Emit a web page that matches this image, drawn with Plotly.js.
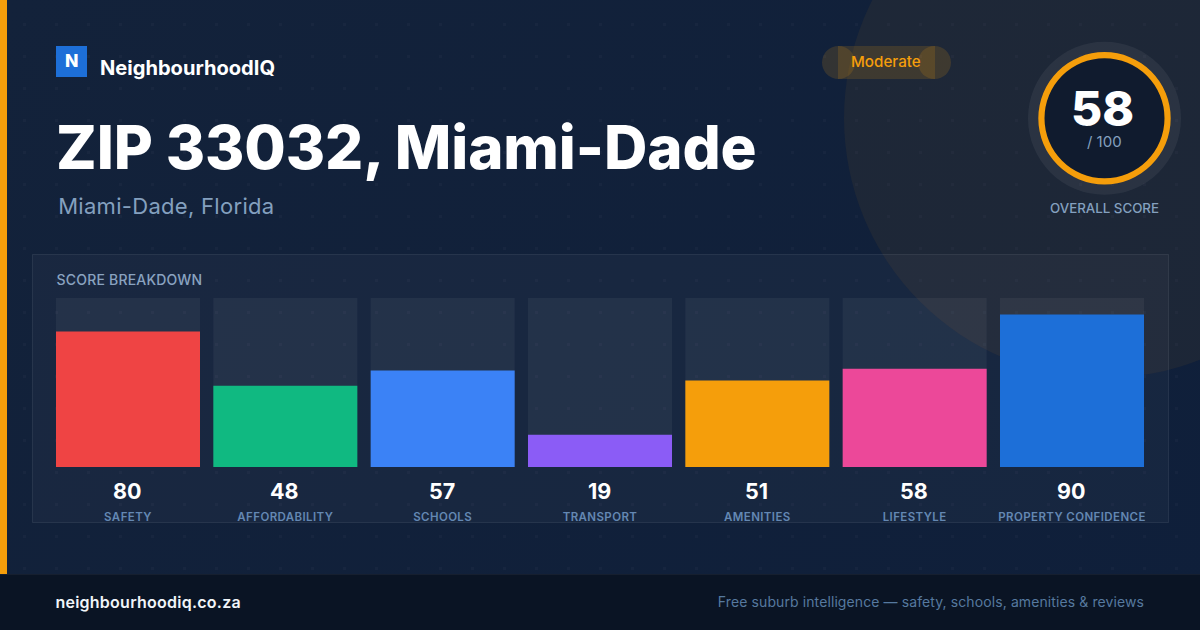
<!DOCTYPE html>
<html>
<head>
<meta charset="utf-8">
<script src="https://cdn.plot.ly/plotly-3.0.1.min.js"></script>
<style>
html,body{margin:0;padding:0;width:1200px;height:630px;overflow:hidden}
body{background-color:#12213b;
background-image:radial-gradient(circle at 16.5px 16.5px,rgba(255,255,255,.022) 1.5px,transparent 1.6px),linear-gradient(135deg,#13223a,#0f1f3a);
background-size:32px 32px,100% 100%;background-position:8px 8px,0 0;}
#chart{width:1200px;height:630px}
.xtick text{letter-spacing:.4px}
.annotation[data-index="1"] text{letter-spacing:-.1px}
.annotation[data-index="2"] text{letter-spacing:.3px}
.annotation[data-index="8"] text{letter-spacing:.2px}
.annotation[data-index="9"] text{letter-spacing:.25px}
.annotation[data-index="10"] text{letter-spacing:.1px}
</style>
</head>
<body>
<div id="chart"></div>
<script>
const categories = ["SAFETY","AFFORDABILITY","SCHOOLS","TRANSPORT","AMENITIES","LIFESTYLE","PROPERTY CONFIDENCE"];
const scores = [80,48,57,19,51,58,90];
const trackMax = [100,100,100,100,100,100,100];
const barColors = ["#ef4444","#10b981","#3b82f6","#8b5cf6","#f59e0b","#ec4899","#1d6fd8"];
const overallScore = 58;

const W = 1200, H = 630, FONT = "Inter, sans-serif";
const px = x => x / W, py = y => 1 - y / H;

function rect(x0,y0,x1,y1,fill,line){
  return {type:"rect",xref:"paper",yref:"paper",layer:"below",x0:px(x0),x1:px(x1),y0:py(y0),y1:py(y1),
    fillcolor:fill,line:line||{width:0}};
}
function circle(cx,cy,r,fill){
  return {type:"circle",xref:"paper",yref:"paper",layer:"below",x0:px(cx-r),x1:px(cx+r),y0:py(cy-r),y1:py(cy+r),
    fillcolor:fill,line:{width:0}};
}
function label(text,x,y,size,color,weight,anchor){
  return {text:text,xref:"paper",yref:"paper",x:px(x),y:py(y),xanchor:anchor||"left",yanchor:"middle",
    showarrow:false,borderpad:0,borderwidth:0,font:{family:FONT,size:size,color:color,weight:weight||400}};
}

const shapes = [
  circle(1104,118,260,"rgba(245,158,11,0.06)"),
  rect(32.5,254.5,1168.5,522.5,"rgba(255,255,255,0.03)",{width:1,color:"rgba(255,255,255,0.08)"}),
  rect(0,0,7,574,"#f59e0b"),
  rect(0,574,1200,630,"#0a1424"),
  rect(0,574,1200,575,"rgba(255,255,255,0.05)"),
  rect(56,46,87,77,"#1d6fd8"),
  circle(838.5,62.5,16.5,"rgba(245,158,11,0.15)"),
  circle(934.5,62.5,16.5,"rgba(245,158,11,0.15)"),
  rect(838,46,935,79,"rgba(245,158,11,0.15)"),
  circle(1104.5,118.3,76.5,"rgba(255,255,255,0.06)"),
  circle(1104.5,118.3,66.2,"#f59e0b"),
  circle(1104.5,118.3,60,"#101b2e"),
];

const annotations = [
  label("NeighbourhoodIQ",100,68,20.1,"#ffffff",700),
  label("ZIP 33032, Miami-Dade",54.5,147,60,"#ffffff",800),
  label("Miami-Dade, Florida",60.5,206,22,"#84a0bf",400),
  label("N",71.5,60.5,17.5,"#ffffff",800,"center"),
  label("Moderate",886,62,15.2,"#f59e0b",500,"center"),
  label(String(overallScore),1102.5,108,48,"#ffffff",800,"center"),
  label("/ 100",1104.5,141,15,"#84a0bf",400,"center"),
  label("OVERALL SCORE",1104.5,208,13.3,"#84a0bf",500,"center"),
  label("SCORE BREAKDOWN",58,279.5,14,"#8aa3c0",500),
  label("neighbourhoodiq.co.za",58.3,602,16,"#f1f5f9",600),
  label("Free suburb intelligence — safety, schools, amenities &amp; reviews",1141,601,14,"#56799f",400,"right"),
];
scores.forEach((v,i)=>{
  annotations.push({text:String(v),xref:"x",yref:"paper",x:categories[i],y:py(491),xshift:-1,xanchor:"center",yanchor:"middle",
    showarrow:false,borderpad:0,borderwidth:0,font:{family:FONT,size:21.5,color:"#ffffff",weight:700}});
});

const data = [
  {type:"bar",x:categories,y:trackMax,marker:{color:"rgba(255,255,255,0.05)",line:{width:0}},hoverinfo:"skip",showlegend:false},
  {type:"bar",x:categories,y:scores,marker:{color:barColors,line:{width:0}},hoverinfo:"skip",showlegend:false}
];

const layout = {
  width:W,height:H,margin:{l:0,r:0,t:0,b:0},
  paper_bgcolor:"rgba(0,0,0,0)",plot_bgcolor:"rgba(0,0,0,0)",
  barmode:"overlay",bargap:0.08475,showlegend:false,
  xaxis:{domain:[49/W,1151/W],type:"category",categoryorder:"array",categoryarray:categories,
    range:[-0.50212,6.50212],fixedrange:true,showgrid:false,zeroline:false,showline:false,
    ticks:"outside",ticklen:39,tickwidth:0,tickcolor:"rgba(0,0,0,0)",
    tickfont:{family:FONT,size:11.5,color:"#6488b3",weight:600},tickangle:0,automargin:false},
  yaxis:{domain:[py(467),py(298)],range:[0,99.746],fixedrange:true,showgrid:false,zeroline:false,showline:false,
    showticklabels:false,ticks:"",automargin:false},
  shapes:shapes,annotations:annotations,
  font:{family:FONT}
};
Plotly.newPlot("chart",data,layout,{displayModeBar:false,staticPlot:true});
</script>
</body>
</html>
